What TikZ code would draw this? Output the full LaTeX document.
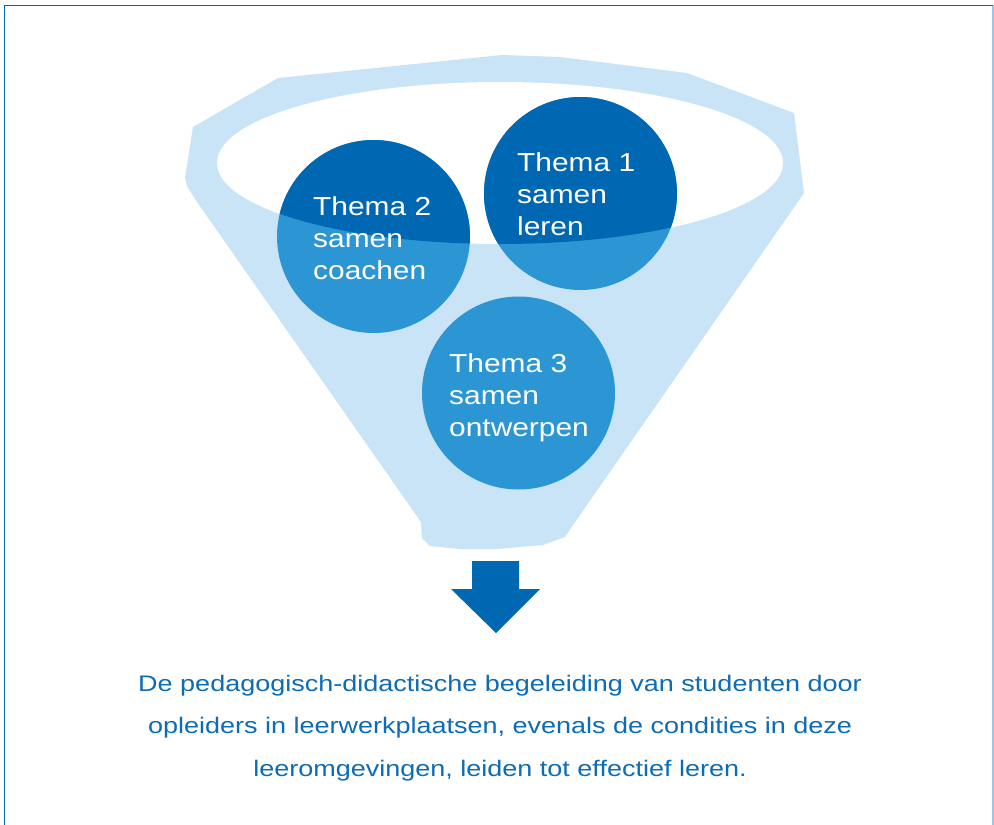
\documentclass[tikz,border=0pt]{standalone}
\usepackage{fontspec}
\setmainfont{Liberation Sans}
\newfontfamily\themefont[FakeStretch=1.15]{Liberation Sans}
\newfontfamily\notefont[FakeStretch=1.2]{Liberation Sans}
\definecolor{darkblue}{HTML}{0068B3}
\definecolor{midblue}{HTML}{2C96D4}
\definecolor{funnellight}{HTML}{CAE4F7}
\definecolor{framelight}{HTML}{A3C4E0}
\definecolor{notecol}{HTML}{0C6CB6}
\begin{document}
\begin{tikzpicture}[x=1pt,y=-1pt,
  themetext/.style={text=white, align=left, inner sep=0pt, anchor=base west,
    font=\themefont\fontsize{26}{32}\selectfont},
  notetext/.style={text=notecol, align=center, inner sep=0pt, anchor=base,
    font=\notefont\fontsize{22.5}{42.5}\selectfont}]
\useasboundingbox (0,0) rectangle (994,825);
\fill[white] (0,0) rectangle (994,825);
% frame
\draw[line width=1.5pt, darkblue] (4.5,830) -- (4.5,5.5) -- (993,5.5);
\draw[line width=1.5pt, framelight] (993,5.5) -- (993,830);
% funnel body
\fill[funnellight] (278,78) -- (502,55) -- (560,57) -- (687,73) -- (794,113)
  -- (804,193) -- (573,525) -- (565,537) -- (543,545) -- (497,549) -- (460,549)
  -- (430,546) -- (422,538) -- (421,522) -- (197,202) -- (187,186) -- (185,178)
  -- (193,127) -- cycle;
% funnel opening
\fill[white] (500,163) ellipse [x radius=283, y radius=81];
% circles (inside funnel body: lighter)
\fill[midblue] (580.5,193.5) circle [radius=96.5];
\fill[midblue] (373.5,236.5) circle [radius=96.5];
\fill[midblue] (518.5,393) circle [radius=96.5];
% circle parts seen through the opening: dark
\begin{scope}
  \clip (500,163) ellipse [x radius=283, y radius=81];
  \fill[darkblue] (580.5,193.5) circle [radius=96.5];
  \fill[darkblue] (373.5,236.5) circle [radius=96.5];
  \fill[darkblue] (518.5,393) circle [radius=96.5];
\end{scope}
% arrow
\fill[darkblue] (472,561) -- (519,561) -- (519,589) -- (540,589) -- (496,633)
  -- (451,589) -- (472,589) -- cycle;
% texts (anchor = baseline of the last line)
\node[themetext] (t1) at (517,235) {Thema 1\\samen\\leren};
\node[themetext] (t2) at (313,279) {Thema 2\\samen\\coachen};
\node[themetext] (t3) at (449,436) {Thema 3\\samen\\ontwerpen};
\node[notetext] (note) at (500,776) {De pedagogisch-didactische begeleiding van studenten door\\opleiders in leerwerkplaatsen, evenals de condities in deze\\leeromgevingen, leiden tot effectief leren.};
\end{tikzpicture}
\end{document}
